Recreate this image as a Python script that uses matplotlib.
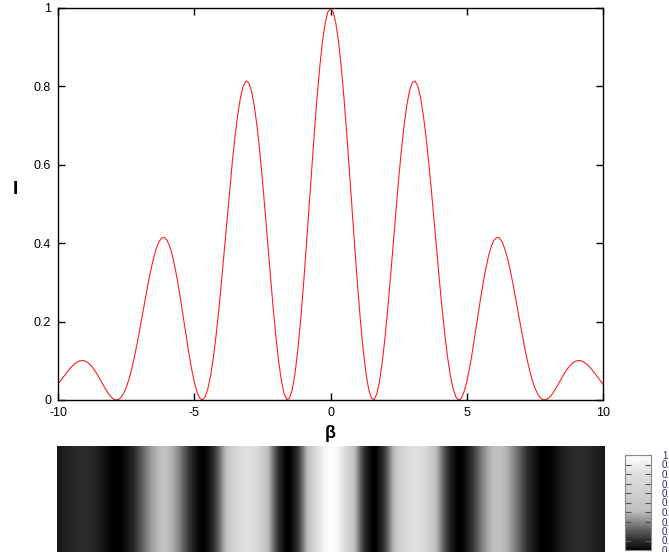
import matplotlib
matplotlib.use("Agg")
import matplotlib.pyplot as plt
import numpy as np
from matplotlib.colors import LinearSegmentedColormap

plt.rcParams['font.family'] = ['Liberation Sans', 'DejaVu Sans']
plt.rcParams['axes.unicode_minus'] = False

# beta from -10 to 10, step 0.1
beta = np.round(np.arange(-10, 10.0001, 0.1), 1)

# intensity, beta = 0 .. 10 (curve is symmetric)
half = [1.0, 0.9898, 0.9597, 0.9110, 0.8455, 0.7661, 0.6761, 0.5790, 0.4790, 0.3799,
        0.2859, 0.2006, 0.1274, 0.0691, 0.0277, 0.0048, 0.0008, 0.0156, 0.0482, 0.0969,
        0.1592, 0.2323, 0.3128, 0.3971, 0.4815, 0.5625, 0.6365, 0.7005, 0.7519, 0.7887,
        0.8096, 0.8137, 0.8013, 0.7730, 0.7302, 0.6748, 0.6092, 0.5362, 0.4587, 0.3798,
        0.3025, 0.2298, 0.1640, 0.1075, 0.0620, 0.0286, 0.0079, 0.0001, 0.0046, 0.0205,
        0.0464, 0.0804, 0.1206, 0.1647, 0.2104, 0.2556, 0.2980, 0.3359, 0.3675, 0.3918,
        0.4077, 0.4149, 0.4132, 0.4030, 0.3850, 0.3601, 0.3296, 0.2948, 0.2572, 0.2183,
        0.1797, 0.1426, 0.1083, 0.0778, 0.0519, 0.0311, 0.0157, 0.0056, 0.0007, 0.0005,
        0.0044, 0.0117, 0.0216, 0.0331, 0.0456, 0.0580, 0.0698, 0.0802, 0.0888, 0.0953,
        0.0993, 0.1008, 0.0999, 0.0967, 0.0916, 0.0848, 0.0768, 0.0679, 0.0587, 0.0493,
        0.0403]
intensity = half[:0:-1] + half

xticks = [-10, -5, 0, 5, 10]
yticks = [0, 0.2, 0.4, 0.6, 0.8, 1]
ytick_labels = ['0', '0.2', '0.4', '0.6', '0.8', '1']
cb_ticks = [0, 0.1, 0.2, 0.3, 0.4, 0.5, 0.6, 0.7, 0.8, 0.9, 1]
cb_labels = ['0', '0.1', '0.2', '0.3', '0.4', '0.5', '0.6', '0.7', '0.8', '0.9', '1']

W, H = 669, 552
fig = plt.figure(figsize=(W / 100, H / 100), dpi=100)

# main curve
ax = fig.add_axes([58 / W, 1 - 400 / H, 545 / W, 392 / H])
ax.plot(beta, intensity, color='#ff2020', lw=0.8)
ax.set_xlim(-10, 10)
ax.set_ylim(0, 1)
ax.set_xticks(xticks)
ax.set_xticklabels([str(t) for t in xticks])
ax.set_yticks(yticks)
ax.set_yticklabels(ytick_labels)
ax.tick_params(direction='in', length=5, width=1, top=True, right=True,
               labelsize=9, pad=5)
for sp in ax.spines.values():
    sp.set_linewidth(1.0)
ax.set_xlabel('β', fontsize=13, fontweight='bold')
ax.xaxis.set_label_coords(0.5, -0.085)
ax.xaxis.label.set_va('center')
ax.set_ylabel('I', fontsize=14, fontweight='bold', rotation=0)
ax.yaxis.set_label_coords(-0.079, 0.536)
ax.yaxis.label.set_va('center')

# intensity map below the curve
cmap = LinearSegmentedColormap.from_list(
    'screen', [(0, '#000000'), (0.04, '#181818'), (0.1, '#2c2c2c'),
               (0.41, '#c0c0c0'), (0.81, '#e0e0e0'), (1, '#ffffff')])
ax_img = fig.add_axes([57 / W, 1 - 620 / H, 548 / W, 174 / H])
im = ax_img.imshow(np.array([intensity]), cmap=cmap, vmin=0, vmax=1,
                   aspect='auto', interpolation='bilinear',
                   extent=[-10, 10, 0, 1])
ax_img.axis('off')

# colorbar (labels run off the right edge, as in the original)
cax = fig.add_axes([625 / W, 1 - 550 / H, 26 / W, 95 / H])
cb = fig.colorbar(im, cax=cax, ticks=cb_ticks)
cb.outline.set_edgecolor('#888888')
cb.outline.set_linewidth(0.8)
cax.tick_params(direction='in', length=4, width=0.8, color='#555555',
                left=True, right=True, labelsize=7, labelcolor='#332266', pad=8)
cax.set_yticklabels(cb_labels)

fig.savefig('out.png', dpi=100)
